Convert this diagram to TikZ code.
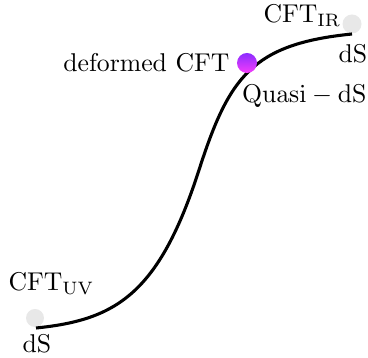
\documentclass[tikz,border=0pt]{standalone}
\begin{document}
\begin{tikzpicture}[x=0.389pt,y=-0.389pt,
  curve/.style={line width=1.2pt},
  enddot/.style={fill=black!9},
  lbl/.style={inner sep=0pt}]
\useasboundingbox (0,0) rectangle (368,358);
% end dots
\fill[enddot] (35,318) circle (9);
\fill[enddot] (352,24) circle (9.5);
\coordinate (uv) at (36,328);
\coordinate (mid) at (199,170);
\coordinate (ir) at (352,34);
\draw[curve] (uv) .. controls (116,320) and (159,294) .. (mid)
                  .. controls (229,77) and (252,44) .. (ir);
\shade[top color={rgb,255:red,140;green,45;blue,255}, bottom color={rgb,255:red,245;green,60;blue,250}] (247,63) circle (10);
% labels
\node[lbl, anchor=base west] (lir) at (263,23) {$\mathrm{CFT}_{\mathrm{IR}}$};
\node[lbl, anchor=base west] (dsir) at (338,63) {$\mathrm{dS}$};
\node[lbl, anchor=base east] (qds) at (367,103) {$\mathrm{Quasi-dS}$};
\node[lbl, anchor=base east] (def) at (230,72) {deformed CFT};
\node[lbl, anchor=base west] (luv) at (8,291) {$\mathrm{CFT}_{\mathrm{UV}}$};
\node[lbl, anchor=base west] (dsuv) at (22,353) {$\mathrm{dS}$};
\end{tikzpicture}
\end{document}
